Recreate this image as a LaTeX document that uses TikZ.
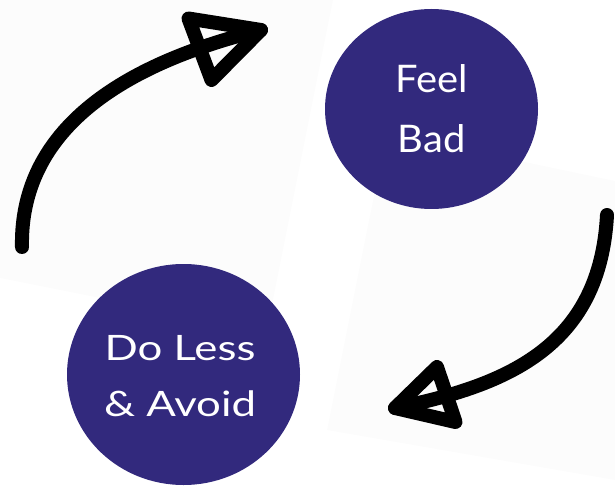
\documentclass[tikz,border=0pt]{standalone}
\usepackage{fontspec}
\setmainfont{Lato}
\usetikzlibrary{shapes.geometric}
\definecolor{circblue}{RGB}{50,41,125}
\definecolor{paper}{RGB}{252,252,252}
\tikzset{
  blob/.style={ellipse, fill=circblue, draw=none, inner sep=0pt, text=white, align=center},
  shaft/.style={line width=14pt, line cap=round, line join=round, black},
  headtri/.style={line width=14pt, line join=round, black},
  sheet/.style={fill=paper, draw=none}
}
\begin{document}
\begin{tikzpicture}[x=1pt, y=-1pt]
\useasboundingbox (0,0) rectangle (615,486);
% faint paper sheets
\fill[sheet] (0,0) -- (333,0) -- (266.7,331) -- (0,278) -- cycle;
\fill[sheet] (386.6,133) -- (615,181) -- (615,480) -- (327,430) -- cycle;
% circles
\node[blob, minimum width=213pt, minimum height=200pt] (feel) at (431.5,109) {};
\node[blob, minimum width=233pt, minimum height=221pt] (doless) at (183.5,374.5) {};
\node[text=white, font=\fontsize{38}{58}\selectfont, align=center] (feeltxt) at (feel.center) {\scalebox{1.05}[1]{Feel}\\[2pt]\scalebox{1.05}[1]{Bad}};
\node[text=white, font=\fontsize{35}{56}\selectfont, align=center] (dotxt) at (180,376) {\scalebox{1.25}[1]{Do Less}\\\scalebox{1.25}[1]{\& Avoid}};
% arrow 1 (up-right)
\coordinate (a1s) at (22,247);
\coordinate (a1t) at (261,30);
\coordinate (a1b) at (188.5,18.5);
\coordinate (a1c) at (211.5,80);
\draw[shaft] (a1s) .. controls (20,150) and (90,72) .. (a1t);
\draw[headtri] (a1b) -- (a1t) -- (a1c) -- cycle;
% arrow 2 (down-left)
\coordinate (a2s) at (607,215);
\coordinate (a2t) at (395,408);
\coordinate (a2b) at (437,367);
\coordinate (a2c) at (455.5,422);
\draw[shaft] (a2s) .. controls (600,345) and (510,385) .. (a2t);
\draw[headtri] (a2b) -- (a2t) -- (a2c) -- cycle;
\end{tikzpicture}
\end{document}
